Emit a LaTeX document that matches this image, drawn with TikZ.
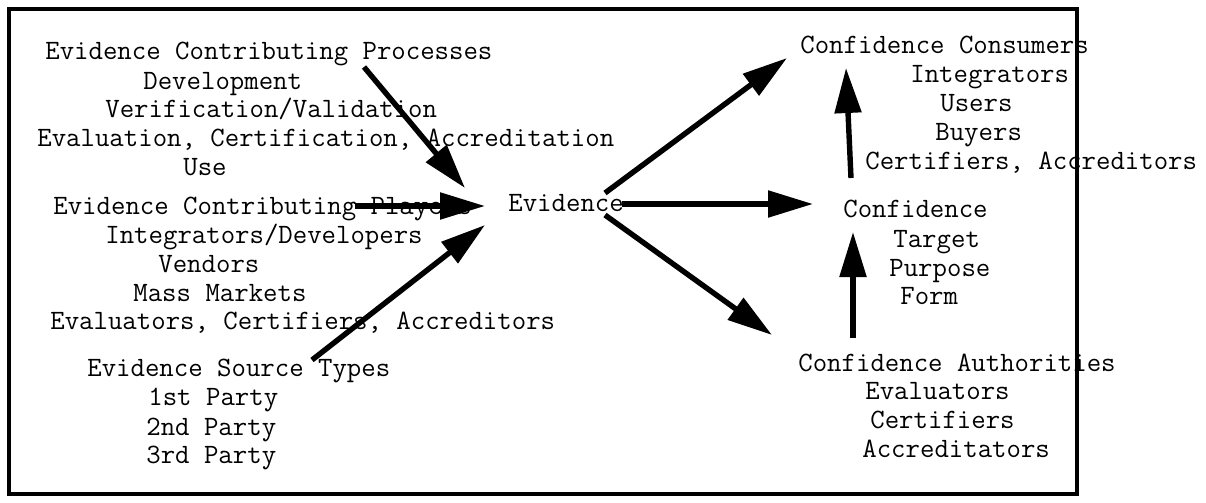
\documentclass[tikz,border=0pt]{standalone}
\usetikzlibrary{arrows.meta}
\tikzset{
    txt/.style={font=\ttfamily\fontsize{14}{16}\selectfont, anchor=base west, inner sep=0pt},
    flow/.style={-{Triangle[length=22.5pt, width=13pt]}, line width=2.7pt},
    frame/.style={draw=black, line width=1.6pt}
}
\begin{document}
\begin{tikzpicture}[x=0.5pt, y=-0.5pt]
        \useasboundingbox (0,0) rectangle (1206,503);
        \draw[frame] (9,9) rectangle (1077,494);

        % Evidence contributing processes
        \node[txt] (procHead) at (45,60) {Evidence Contributing Processes};
        \node[txt] (procDev) at (143,89) {Development};
        \node[txt] (procVer) at (105,117) {Verification/Validation};
        \node[txt] (procEval) at (37,146) {Evaluation, Certification, Accreditation};
        \node[txt] (procUse) at (183,175) {Use};

        % Evidence contributing players
        \node[txt] (playHead) at (53,214) {Evidence Contributing Players};
        \node[txt] (playInt) at (105,243) {Integrators/Developers};
        \node[txt] (playVen) at (158,272) {Vendors};
        \node[txt] (playMass) at (133,301) {Mass Markets};
        \node[txt] (playEval) at (50,329) {Evaluators, Certifiers, Accreditors};

        % Evidence source types
        \node[txt] (srcHead) at (87,376) {Evidence Source Types};
        \node[txt] (srcFirst) at (148,405) {1st Party};
        \node[txt] (srcSecond) at (146,435) {2nd Party};
        \node[txt] (srcThird) at (146,463) {3rd Party};

        % Evidence
        \node[txt] (evidence) at (508,211) {Evidence};

        % Confidence consumers
        \node[txt] (consHead) at (800,54) {Confidence Consumers};
        \node[txt] (consInt) at (910,83) {Integrators};
        \node[txt] (consUsers) at (940,111) {Users};
        \node[txt] (consBuyers) at (935,140) {Buyers};
        \node[txt] (consCert) at (865,169) {Certifiers, Accreditors};

        % Confidence
        \node[txt] (confHead) at (843,217) {Confidence};
        \node[txt] (confTarget) at (893,247) {Target};
        \node[txt] (confPurpose) at (889,276) {Purpose};
        \node[txt] (confForm) at (900,304) {Form};

        % Confidence authorities
        \node[txt] (authHead) at (798,371) {Confidence Authorities};
        \node[txt] (authEval) at (865,399) {Evaluators};
        \node[txt] (authCert) at (870,428) {Certifiers};
        \node[txt] (authAccr) at (862,457) {Accreditators};

        % arrow ends
        \coordinate (procOut) at (364,67);
        \coordinate (procIn) at (465,188);
        \coordinate (playOut) at (355,206);
        \coordinate (playIn) at (485,206);
        \coordinate (srcOut) at (312,360);
        \coordinate (srcIn) at (485,225);
        \coordinate (evUp) at (605,193);
        \coordinate (evMid) at (622,204);
        \coordinate (evDown) at (605,215);
        \coordinate (consIn) at (787,58);
        \coordinate (confIn) at (813,204);
        \coordinate (authIn) at (772,335);
        \coordinate (confUpOut) at (851,178);
        \coordinate (confUpIn) at (846,68);
        \coordinate (authUpOut) at (853,338);
        \coordinate (authUpIn) at (853,232);

        \draw[flow] (procOut) -- (procIn);
        \draw[flow] (playOut) -- (playIn);
        \draw[flow] (srcOut) -- (srcIn);
        \draw[flow] (evUp) -- (consIn);
        \draw[flow] (evMid) -- (confIn);
        \draw[flow] (evDown) -- (authIn);
        \draw[flow] (confUpOut) -- (confUpIn);
        \draw[flow] (authUpOut) -- (authUpIn);
\end{tikzpicture}
\end{document}
